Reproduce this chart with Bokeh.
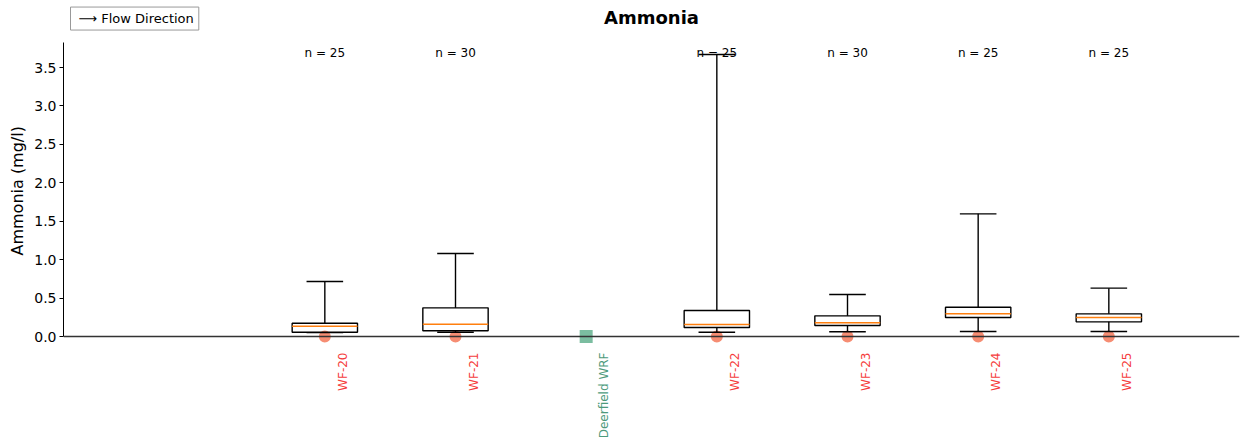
import math
from bokeh.plotting import figure
from bokeh.models import Range1d, FixedTicker, Span, Label, ColumnDataSource, PrintfTickFormatter, Title
from bokeh.core.properties import value
from bokeh.embed import file_html
from bokeh.resources import INLINE

# ---- data ----
sites = ["WF-20", "WF-21", "Deerfield WRF", "WF-22", "WF-23", "WF-24", "WF-25"]
site_kind = ["stream", "stream", "wrf", "stream", "stream", "stream", "stream"]

box_sites = ["WF-20", "WF-21", "WF-22", "WF-23", "WF-24", "WF-25"]
n_counts = [25, 30, 25, 30, 25, 25]
whisker_low = [0.050, 0.056, 0.056, 0.061, 0.065, 0.065]
q1 = [0.056, 0.074, 0.117, 0.143, 0.247, 0.191]
median = [0.134, 0.160, 0.156, 0.178, 0.295, 0.247]
q3 = [0.173, 0.373, 0.338, 0.269, 0.381, 0.295]
whisker_high = [0.716, 1.080, 3.670, 0.546, 1.596, 0.629]

y_ticks = [0.0, 0.5, 1.0, 1.5, 2.0, 2.5, 3.0, 3.5]

FONT = "DejaVu Sans"
x_of = {s: i + 2 for i, s in enumerate(sites)}

p = figure(width=1247, height=437, output_backend="svg", toolbar_location=None,
           x_range=Range1d(0, 9), y_range=Range1d(-1.314, 4.372),
           x_axis_location=None, min_border_left=63, min_border_right=8,
           min_border_top=0, min_border_bottom=0)
p.outline_line_color = None
p.grid.visible = False
p.background_fill_color = "white"

ax = p.yaxis[0]
ax.bounds = (0, 3.826)
ax.ticker = FixedTicker(ticks=y_ticks)
ax.formatter = PrintfTickFormatter(format="%.1f")
ax.major_label_text_font = FONT
ax.major_label_text_font_size = "14px"
ax.major_label_text_color = "black"
ax.major_tick_out = 4
ax.major_tick_in = 0
ax.minor_tick_line_color = None
ax.axis_line_color = "black"
ax.major_tick_line_color = "black"
ax.major_label_standoff = 3

p.add_layout(Title(text="Ammonia (mg/l)", text_font=FONT, text_font_size="16px",
                   text_font_style="normal", text_color="black",
                   align="left", offset=182), "left")

p.add_layout(Span(location=0, dimension="width", line_color="#333333", line_width=1.3))

# markers at zero for each site
stream_x = [x_of[s] for s, k in zip(sites, site_kind) if k == "stream"]
wrf_x = [x_of[s] for s, k in zip(sites, site_kind) if k == "wrf"]
p.scatter(x=stream_x, y=[0] * len(stream_x), marker="circle", size=12,
          fill_color="#f4795b", fill_alpha=0.85, line_color=None)
p.scatter(x=wrf_x, y=[0] * len(wrf_x), marker="square", size=13,
          fill_color="#6db696", fill_alpha=0.9, line_color=None)

# boxes
bx = [x_of[s] for s in box_sites]
src = ColumnDataSource(dict(
    x=bx, left=[v - 0.25 for v in bx], right=[v + 0.25 for v in bx],
    cl=[v - 0.14 for v in bx], cr=[v + 0.14 for v in bx],
    lo=whisker_low, q1=q1, med=median, q3=q3, hi=whisker_high,
    n=[f"n = {c}" for c in n_counts], ny=[3.695] * len(bx)))

p.segment(x0="x", x1="x", y0="q3", y1="hi", source=src, line_color="black", line_width=1.4)
p.segment(x0="x", x1="x", y0="lo", y1="q1", source=src, line_color="black", line_width=1.4)
p.segment(x0="cl", x1="cr", y0="hi", y1="hi", source=src, line_color="black", line_width=1.4)
p.segment(x0="cl", x1="cr", y0="lo", y1="lo", source=src, line_color="black", line_width=1.4)
p.quad(left="left", right="right", bottom="q1", top="q3", source=src,
       fill_color=None, line_color="black", line_width=1.4)
p.segment(x0="left", x1="right", y0="med", y1="med", source=src,
          line_color="#ff7f0e", line_width=1.5)
p.text(x="x", y="ny", text="n", source=src, text_font=value(FONT),
       text_font_size="12px", text_align="center", text_baseline="middle",
       text_color="black")

# rotated site labels
lab_src = ColumnDataSource(dict(
    x=[x_of[s] for s in sites], y=[0] * len(sites), t=sites,
    c=["#f53d3d" if k == "stream" else "#4d9a7c" for k in site_kind]))
p.text(x="x", y="y", text="t", source=lab_src, angle=math.pi / 2,
       x_offset=18, y_offset=16, text_align="right", text_baseline="middle",
       text_font=value(FONT), text_font_size="12px", text_color="c")

# title and flow-direction key inside the (tall) frame
p.add_layout(Label(x=4.5, y=4.15, text="Ammonia", text_font=FONT, text_font_size="18px",
                   text_font_style="bold", text_color="black",
                   text_align="center", text_baseline="middle"))
p.add_layout(Label(x=0, y=4.137, x_offset=7, text="\u27f6 Flow Direction",
                   text_font=FONT, text_font_size="13px", text_color="black",
                   text_align="left", text_baseline="middle",
                   border_line_color="#999999", border_line_width=1,
                   background_fill_color="white",
                   padding=dict(left=8, right=5, top=4, bottom=4)))

open("out.html", "w").write(file_html(p, INLINE))
